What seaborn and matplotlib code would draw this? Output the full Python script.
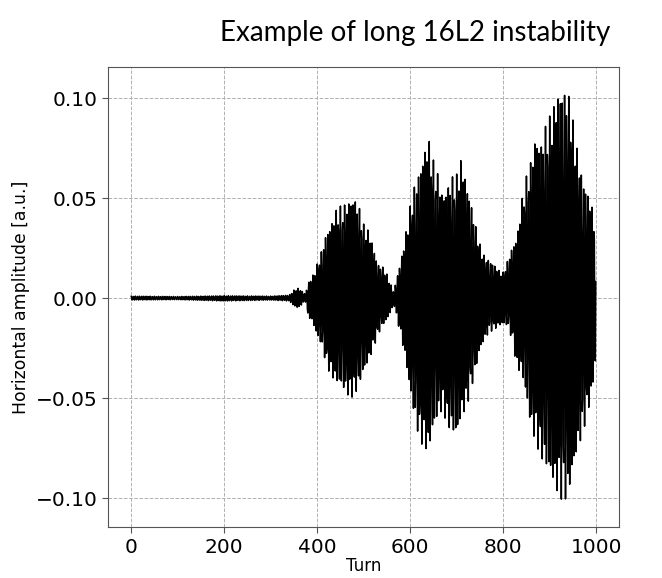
import numpy as np
import matplotlib
matplotlib.use("Agg")
import matplotlib.pyplot as plt
import seaborn as sns

# Envelope of the horizontal oscillation (turn -> amplitude)
env_turns = [0, 100, 200, 300, 340, 350, 360, 370, 375, 380, 390, 400, 410, 420, 430, 440, 450,
             460, 470, 480, 490, 500, 510, 520, 530, 540, 550, 560, 565, 570, 580, 590, 600,
             610, 620, 630, 640, 650, 660, 670, 680, 690, 700, 710, 720, 730, 740, 750, 760,
             770, 780, 790, 800, 810, 820, 830, 840, 850, 860, 870, 880, 890, 900, 910, 920,
             930, 940, 950, 960, 970, 980, 990, 999]
upper_env = [0.0010, 0.0008, 0.0012, 0.0010, 0.0015, 0.0040, 0.0050, 0.0030, 0.0020, 0.0075,
             0.0110, 0.0170, 0.0240, 0.0330, 0.0370, 0.0440, 0.0460, 0.0470, 0.0490, 0.0505,
             0.0460, 0.0370, 0.0340, 0.0270, 0.0170, 0.0160, 0.0120, 0.0060, 0.0030, 0.0090,
             0.0190, 0.0320, 0.0460, 0.0570, 0.0640, 0.0740, 0.0800, 0.0690, 0.0620, 0.0510,
             0.0560, 0.0610, 0.0620, 0.0700, 0.0590, 0.0490, 0.0370, 0.0270, 0.0210, 0.0190,
             0.0170, 0.0140, 0.0130, 0.0190, 0.0260, 0.0310, 0.0490, 0.0610, 0.0690, 0.0820,
             0.0760, 0.0860, 0.0910, 0.0970, 0.1040, 0.1050, 0.1030, 0.0890, 0.0740, 0.0610,
             0.0540, 0.0470, 0.0360]
lower_env = [-0.0010, -0.0008, -0.0015, -0.0010, -0.0015, -0.0040, -0.0050, -0.0025, -0.0020,
             -0.0090, -0.0120, -0.0190, -0.0240, -0.0340, -0.0390, -0.0420, -0.0440, -0.0470,
             -0.0500, -0.0490, -0.0440, -0.0370, -0.0320, -0.0260, -0.0190, -0.0140, -0.0110,
             -0.0060, -0.0030, -0.0090, -0.0190, -0.0310, -0.0470, -0.0610, -0.0710, -0.0750,
             -0.0770, -0.0660, -0.0590, -0.0560, -0.0640, -0.0670, -0.0700, -0.0590, -0.0560,
             -0.0470, -0.0370, -0.0260, -0.0210, -0.0170, -0.0160, -0.0140, -0.0130, -0.0140,
             -0.0220, -0.0360, -0.0370, -0.0510, -0.0660, -0.0720, -0.0790, -0.0840, -0.0890,
             -0.0940, -0.0990, -0.1020, -0.1000, -0.0870, -0.0760, -0.0690, -0.0590, -0.0490,
             -0.0320]
tune = 0.22  # fractional tune of the betatron oscillation
n_turns = 1000

title = "Example of long 16L2 instability"
x_label = "Turn"
y_label = "Horizontal amplitude [a.u.]"
x_ticks = [0, 200, 400, 600, 800, 1000]
y_ticks = [-0.10, -0.05, 0.00, 0.05, 0.10]

# turn-by-turn position: oscillation inside the read envelope
turn = np.arange(n_turns)
up = np.interp(turn, env_turns, upper_env)
lo = np.interp(turn, env_turns, lower_env)
pos = (up + lo) / 2 + (up - lo) / 2 * np.cos(2 * np.pi * tune * turn)

sns.set_style("whitegrid", {"grid.linestyle": "--", "grid.color": "#b0b0b0",
                            "axes.edgecolor": "#555555", "text.color": "black",
                            "axes.labelcolor": "black", "xtick.color": "black",
                            "ytick.color": "black"})
plt.rcParams["font.family"] = ["DejaVu Sans"]

fig = plt.figure(figsize=(6.62, 5.78), dpi=100)
ax = fig.add_axes([0.163, 0.088, 0.772, 0.796])
sns.lineplot(x=turn, y=pos, ax=ax, color="black", linewidth=1.1)

ax.set_xticks(x_ticks)
ax.set_yticks(y_ticks)
ax.set_yticklabels([f"{v:.2f}".replace("-", "\u2212") for v in y_ticks])
ax.set_ylim(-0.1145, 0.1155)
ax.tick_params(axis="both", labelsize=14.5, length=4, color="#555555", labelcolor="black",
               left=True, bottom=True)
ax.set_xlabel(x_label, fontsize=12, labelpad=0)
ax.set_ylabel(y_label, fontsize=12.4)
ax.grid(True, linewidth=0.7)

fig.text(0.627, 0.943, title, ha="center", va="center", fontsize=20, family="Lato",
         color="black")

fig.savefig("out.png", dpi=100)
